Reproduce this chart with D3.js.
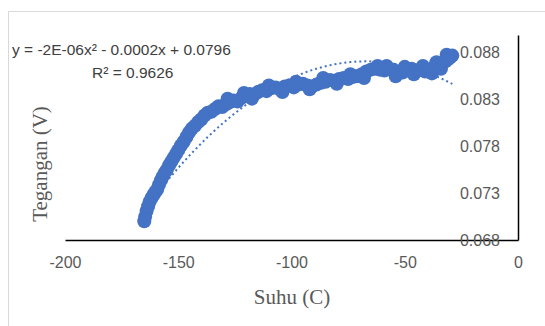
<!DOCTYPE html>
<html>
<head>
<meta charset="utf-8">
<script src="https://cdn.jsdelivr.net/npm/d3@7"></script>
<style>
  body { margin: 0; background: #fff; }
</style>
</head>
<body>
<div id="chart"></div>
<script>
// data
const suhu = [
  -165.0, -164.6, -164.0, -163.3, -162.6, -161.8, -161.0, -160.2, -159.3, -158.5,
  -157.6, -156.8, -155.9, -155.0, -154.0, -153.0, -152.0, -151.0, -150.0, -148.8,
  -147.6, -146.4, -145.2, -144.0, -142.6, -141.2, -139.8, -138.4, -137.0, -135.4,
  -133.8, -132.2, -130.6, -129.0, -128.2, -127.4, -125.6, -123.8, -122.0, -121.0,
  -120.2, -118.4, -117.5, -116.6, -114.8, -113.0, -111.0, -110.0, -109.0, -107.0,
  -105.0, -104.0, -103.0, -101.0, -99.0, -98.0, -97.0, -95.0, -93.0, -92.0,
  -91.0, -89.0, -87.0, -86.0, -85.0, -83.0, -81.0, -80.0, -79.0, -77.0,
  -75.0, -74.0, -73.0, -71.0, -69.0, -68.0, -67.0, -65.0, -63.0, -62.0,
  -61.0, -59.0, -58.0, -57.0, -55.0, -54.0, -53.0, -51.0, -50.0, -49.0,
  -47.0, -46.0, -45.0, -43.0, -42.0, -41.0, -39.0, -38.0, -37.0, -36.0,
  -35.0, -34.0, -33.5, -32.0, -31.5, -31.0, -30.0, -29.0
];
const tegangan = [
  0.0700, 0.0705, 0.0711, 0.0716, 0.0721, 0.0725, 0.0728, 0.0731, 0.0734, 0.0739,
  0.0744, 0.0748, 0.0752, 0.0755, 0.0760, 0.0764, 0.0768, 0.0772, 0.0776, 0.0781,
  0.0785, 0.0790, 0.0795, 0.0799, 0.0802, 0.0806, 0.0809, 0.0813, 0.0816, 0.0817,
  0.0820, 0.0823, 0.0822, 0.0825, 0.0831, 0.0827, 0.0829, 0.0828, 0.0832, 0.0837,
  0.0834, 0.0836, 0.0831, 0.0835, 0.0838, 0.0840, 0.0839, 0.0845, 0.0842, 0.0843,
  0.0841, 0.0838, 0.0844, 0.0845, 0.0843, 0.0849, 0.0846, 0.0847, 0.0845, 0.0841,
  0.0844, 0.0846, 0.0848, 0.0853, 0.0849, 0.0851, 0.0850, 0.0847, 0.0852, 0.0853,
  0.0852, 0.0857, 0.0854, 0.0855, 0.0857, 0.0853, 0.0860, 0.0862, 0.0863, 0.0866,
  0.0862, 0.0861, 0.0866, 0.0863, 0.0862, 0.0855, 0.0858, 0.0859, 0.0865, 0.0862,
  0.0863, 0.0857, 0.0861, 0.0862, 0.0866, 0.0860, 0.0862, 0.0858, 0.0865, 0.0870,
  0.0867, 0.0863, 0.0869, 0.0871, 0.0878, 0.0873, 0.0875, 0.0877
];
const xTicks = [-200, -150, -100, -50, 0];
const yTicks = [0.068, 0.073, 0.078, 0.083, 0.088];
// trendline poly2: c0 + c1*x + c2*x^2
const trendCoef = [0.0796, -0.000223, -0.00000166];
const trendLabel = ["y = -2E-06x² - 0.0002x + 0.0796", "R² = 0.9626"];

const width = 545, height = 326;
const plot = { left: 65, right: 518, top: 35, bottom: 240 };
const blue = "#4472C4";
const grey = "#595959";
const sans = "Liberation Sans, Arial, sans-serif";
const serif = "Liberation Serif, Times New Roman, serif";

const svg = d3.select("#chart").append("svg")
  .attr("width", width)
  .attr("height", height);

// chart area border
svg.append("rect")
  .attr("x", 8.5).attr("y", 11.5)
  .attr("width", 560).attr("height", 340)
  .attr("fill", "#fff")
  .attr("stroke", "#d9d9d9");

const x = d3.scaleLinear().domain([-200, 0]).range([plot.left, plot.right]);
const y = d3.scaleLinear().domain([0.068, 0.0899]).range([plot.bottom, plot.top]);

// x axis (crosses at y min), plain hyphen for negatives like excel
const xAxis = svg.append("g")
  .attr("transform", "translate(0," + plot.bottom + ")")
  .call(d3.axisBottom(x).tickValues(xTicks).tickSize(0).tickPadding(17).tickFormat(d => String(d)));
xAxis.select(".domain").attr("stroke", "#000").attr("stroke-width", 1.5);
xAxis.selectAll("text")
  .style("font-family", sans)
  .style("font-size", "16px")
  .attr("fill", grey);

// y axis sits at x = 0, labels on the inside
const yAxis = svg.append("g")
  .attr("transform", "translate(" + plot.right + ",0)")
  .call(d3.axisLeft(y).tickValues(yTicks).tickSize(0).tickPadding(18).tickFormat(d3.format(".3f")));
yAxis.select(".domain").attr("stroke", "#000").attr("stroke-width", 1.5);
yAxis.selectAll("text")
  .style("font-family", sans)
  .style("font-size", "16px")
  .attr("fill", grey);

// points
const pts = suhu.map((s, i) => ({ s: s, v: tegangan[i] }));
svg.append("g")
  .selectAll("circle")
  .data(pts)
  .enter()
  .append("circle")
  .attr("cx", d => x(d.s))
  .attr("cy", d => y(d.v))
  .attr("r", 7)
  .attr("fill", blue);

// trendline
const trend = d3.range(d3.min(suhu), d3.max(suhu) + 0.5, 1).map(s => ({
  s: s,
  v: trendCoef[0] + trendCoef[1] * s + trendCoef[2] * s * s
}));
svg.append("path")
  .datum(trend)
  .attr("d", d3.line().x(d => x(d.s)).y(d => y(d.v)))
  .attr("fill", "none")
  .attr("stroke", blue)
  .attr("stroke-width", 2)
  .attr("stroke-dasharray", "2,3");

// keep tick labels above the markers
yAxis.raise();

// trendline label
svg.append("text")
  .attr("x", 12).attr("y", 55)
  .style("font-family", sans)
  .style("font-size", "15.5px")
  .attr("fill", "#404040")
  .text(trendLabel[0]);
svg.append("text")
  .attr("x", 92).attr("y", 78)
  .style("font-family", sans)
  .style("font-size", "15.5px")
  .attr("fill", "#404040")
  .text(trendLabel[1]);

// axis titles
svg.append("text")
  .attr("x", 292).attr("y", 304)
  .attr("text-anchor", "middle")
  .style("font-family", serif)
  .style("font-size", "21px")
  .attr("fill", grey)
  .text("Suhu (C)");
svg.append("text")
  .attr("transform", "translate(47,164) rotate(-90)")
  .attr("text-anchor", "middle")
  .style("font-family", serif)
  .style("font-size", "21px")
  .attr("fill", grey)
  .text("Tegangan (V)");
</script>
</body>
</html>
